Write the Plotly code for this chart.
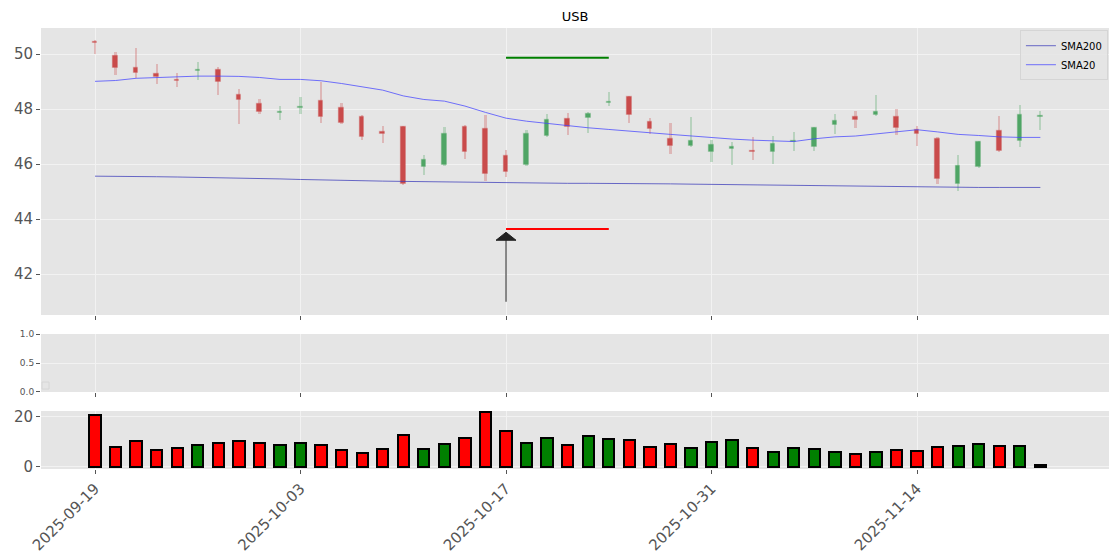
import plotly.graph_objects as go

# ---------------- data ----------------
title_text = "USB"
dates = [
    "2025-09-19", "2025-09-22", "2025-09-23", "2025-09-24", "2025-09-25", "2025-09-26",
    "2025-09-29", "2025-09-30", "2025-10-01", "2025-10-02", "2025-10-03",
    "2025-10-06", "2025-10-07", "2025-10-08", "2025-10-09", "2025-10-10",
    "2025-10-13", "2025-10-14", "2025-10-15", "2025-10-16", "2025-10-17",
    "2025-10-20", "2025-10-21", "2025-10-22", "2025-10-23", "2025-10-24",
    "2025-10-27", "2025-10-28", "2025-10-29", "2025-10-30", "2025-10-31",
    "2025-11-03", "2025-11-04", "2025-11-05", "2025-11-06", "2025-11-07",
    "2025-11-10", "2025-11-11", "2025-11-12", "2025-11-13", "2025-11-14",
    "2025-11-17", "2025-11-18", "2025-11-19", "2025-11-20", "2025-11-21",
    "2025-11-24",
]
opens = [50.44, 49.94, 49.48, 49.28, 49.05, 49.39, 49.42, 48.52, 48.19, 47.86, 48.04,
         48.30, 48.05, 47.72, 47.18, 47.36, 45.90, 45.98, 47.36, 47.26, 46.29,
         45.97, 47.02, 47.65, 47.67, 48.22, 48.45, 47.54, 46.92, 46.65, 46.44,
         46.55, 46.47, 46.44, 46.80, 46.61, 47.42, 47.72, 47.78, 47.72, 47.24,
         46.93, 45.27, 45.90, 47.21, 46.85, 47.70]
highs = [50.51, 50.08, 50.24, 49.65, 49.32, 49.72, 49.52, 48.74, 48.38, 48.11, 48.45,
         48.99, 48.23, 47.78, 47.38, 47.38, 46.33, 47.36, 47.42, 47.78, 46.51,
         47.24, 47.82, 47.87, 47.90, 48.63, 48.47, 47.68, 47.50, 47.72, 46.87,
         46.79, 46.99, 47.02, 47.18, 47.36, 47.84, 47.94, 48.51, 48.02, 47.38,
         46.97, 46.33, 46.84, 47.75, 48.15, 47.94]
lows = [50.02, 49.24, 49.12, 48.91, 48.79, 49.05, 48.50, 47.45, 47.82, 47.60, 47.84,
        47.48, 47.45, 46.87, 46.78, 45.25, 45.60, 45.93, 46.17, 45.39, 45.54,
        45.93, 46.97, 47.05, 47.12, 48.11, 47.48, 47.09, 46.36, 46.62, 46.08,
        45.97, 46.15, 46.02, 46.47, 46.48, 47.09, 47.30, 47.75, 47.05, 46.65,
        45.27, 45.03, 45.84, 46.45, 46.62, 47.24]
closes = [50.40, 49.50, 49.33, 49.15, 49.01, 49.43, 48.98, 48.33, 47.89, 47.90, 48.08,
          47.70, 47.48, 46.97, 47.10, 45.27, 46.15, 47.09, 46.44, 45.64, 45.71,
          47.09, 47.60, 47.36, 47.82, 48.26, 47.78, 47.26, 46.65, 46.85, 46.69,
          46.62, 46.43, 46.73, 46.84, 47.32, 47.58, 47.60, 47.90, 47.30, 47.09,
          45.44, 45.94, 46.81, 46.47, 47.78, 47.74]
volumes = [20.8, 8.0, 10.4, 6.8, 7.6, 8.7, 9.6, 10.4, 9.6, 8.7, 9.6,
           8.7, 6.8, 5.6, 7.2, 12.8, 7.2, 9.2, 11.6, 22.1, 14.4,
           9.6, 11.6, 8.8, 12.4, 11.2, 10.8, 8.0, 9.2, 7.6, 10.0,
           10.8, 7.6, 6.0, 7.6, 7.2, 6.0, 5.2, 6.0, 6.8, 6.4,
           8.0, 8.4, 9.2, 8.4, 8.4, 0.9]
sma20 = [49.01, 49.04, 49.12, 49.15, 49.16, 49.20, 49.20, 49.19, 49.15, 49.08, 49.08,
         49.03, 48.93, 48.81, 48.69, 48.48, 48.35, 48.29, 48.11, 47.88, 47.67,
         47.56, 47.48, 47.38, 47.32, 47.26, 47.19, 47.14, 47.08, 47.02, 46.96,
         46.91, 46.87, 46.84, 46.82, 46.92, 46.99, 47.02, 47.09, 47.17, 47.25,
         47.17, 47.08, 47.04, 46.99, 46.97, 46.97]
sma200 = [45.56, 45.56, 45.55, 45.54, 45.53, 45.52, 45.50, 45.49, 45.47, 45.46, 45.44,
          45.42, 45.40, 45.39, 45.38, 45.37, 45.36, 45.35, 45.34, 45.32, 45.31,
          45.31, 45.30, 45.30, 45.30, 45.30, 45.29, 45.29, 45.28, 45.27, 45.26,
          45.25, 45.24, 45.23, 45.22, 45.21, 45.20, 45.20, 45.19, 45.19, 45.18,
          45.16, 45.15, 45.15, 45.15, 45.15, 45.15]
tick_dates = ["2025-09-19", "2025-10-03", "2025-10-17", "2025-10-31", "2025-11-14"]
level_dates = ["2025-10-17", "2025-10-24"]
target_levels = [49.865, 49.865]
stop_levels = [43.636, 43.636]
signal_date = "2025-10-17"
arrow_tip = 43.52
arrow_base = 40.99
price_ticks = [42, 44, 46, 48, 50]
mid_ticks = [0, 0.5, 1.0]
mid_tick_text = ["0.0", "0.5", "1.0"]
vol_ticks = [0, 20]

# ---------------- styles ----------------
FONT = "DejaVu Sans"
UP_BODY = "#4fa565"
DN_BODY = "#c94b4b"
UP_WICK = "rgba(79,165,101,0.30)"
DN_WICK = "rgba(201,75,75,0.30)"

is_up = [c >= o for o, c in zip(opens, closes)]
body_col = [UP_BODY if u else DN_BODY for u in is_up]
wick_col = [UP_WICK if u else DN_WICK for u in is_up]
body_h = [max(abs(c - o), 0.04) for o, c in zip(opens, closes)]
body_base = [(o + c) / 2 - h / 2 for o, c, h in zip(opens, closes, body_h)]
wick_h = [h - l for h, l in zip(highs, lows)]
vol_col = ["#008000" if u else "#ff0000" for u in is_up]

fig = go.Figure()

# wicks
fig.add_trace(go.Bar(x=dates, y=wick_h, base=lows, width=0.11,
                     marker=dict(color=wick_col, line=dict(width=0)),
                     showlegend=False, hoverinfo="skip", xaxis="x", yaxis="y"))
# bodies
fig.add_trace(go.Bar(x=dates, y=body_h, base=body_base, width=0.22,
                     marker=dict(color=body_col, line=dict(color=wick_col, width=1.2)),
                     showlegend=False, xaxis="x", yaxis="y"))
# moving averages
fig.add_trace(go.Scatter(x=dates, y=sma200, mode="lines", name="SMA200",
                         line=dict(color="rgba(60,60,185,0.75)", width=1),
                         xaxis="x", yaxis="y"))
fig.add_trace(go.Scatter(x=dates, y=sma20, mode="lines", name="SMA20",
                         line=dict(color="rgba(70,70,255,0.75)", width=1),
                         xaxis="x", yaxis="y"))
# target / stop levels
fig.add_trace(go.Scatter(x=level_dates, y=target_levels, mode="lines",
                         line=dict(color="#008000", width=2), showlegend=False,
                         xaxis="x", yaxis="y"))
fig.add_trace(go.Scatter(x=level_dates, y=stop_levels, mode="lines",
                         line=dict(color="#ff0000", width=2), showlegend=False,
                         xaxis="x", yaxis="y"))
# empty middle panel
fig.add_trace(go.Scatter(x=[], y=[], showlegend=False, xaxis="x2", yaxis="y2"))
# volume
fig.add_trace(go.Bar(x=dates, y=volumes, width=0.55,
                     marker=dict(color=vol_col, line=dict(color="black", width=2)),
                     showlegend=False, xaxis="x3", yaxis="y3"))

# signal arrow: shaft + flat triangular head
fig.add_shape(type="line", xref="x", yref="y", x0=signal_date, x1=signal_date,
              y0=arrow_base, y1=arrow_tip - 0.25, line=dict(color="#666666", width=1.5))
fig.add_shape(type="path", xref="x", yref="y", xsizemode="pixel", ysizemode="pixel",
              xanchor=signal_date, yanchor=arrow_tip,
              path="M-10,-8 L10,-8 L0,0 Z", fillcolor="#222222",
              line=dict(color="#222222", width=1))

xcommon = dict(type="category", categoryorder="array", categoryarray=dates,
               range=[-2.628, 49.34], tickmode="array", tickvals=tick_dates,
               ticks="outside", ticklen=4, tickcolor="#555555", tickwidth=1,
               showgrid=True, gridcolor="#f2f2f2", gridwidth=1, zeroline=False,
               showline=False, automargin=False)
ycommon = dict(ticks="outside", ticklen=4, tickcolor="#555555", tickwidth=1,
               showgrid=True, gridcolor="#f2f2f2", gridwidth=1, zeroline=False,
               showline=False, automargin=False,
               tickfont=dict(family=FONT, size=15, color="#555555"))

fig.update_layout(
    width=1120, height=560,
    margin=dict(l=41, r=11, t=28, b=91, autoexpand=False),
    paper_bgcolor="white", plot_bgcolor="#e5e5e5",
    font=dict(family=FONT, color="#555555"),
    barmode="overlay", bargap=0,
    title=dict(text=title_text, x=0.5, xref="paper", xanchor="center",
               y=1 - 16 / 560, yref="container", yanchor="middle",
               font=dict(family=FONT, size=13, color="black")),
    xaxis=dict(xcommon, domain=[0, 1], anchor="y", showticklabels=False),
    xaxis2=dict(xcommon, domain=[0, 1], anchor="y2", matches="x", showticklabels=False),
    xaxis3=dict(xcommon, domain=[0, 1], anchor="y3", matches="x", showticklabels=True,
                tickangle=-45, tickfont=dict(family=FONT, size=15, color="#555555")),
    yaxis=dict(ycommon, domain=[0.3492, 1], range=[40.51, 50.95],
               tickmode="array", tickvals=price_ticks),
    yaxis2=dict(ycommon, domain=[0.1746, 0.3061], range=[0, 1],
                tickmode="array", tickvals=mid_ticks, ticktext=mid_tick_text,
                tickfont=dict(family=FONT, size=9, color="#555555")),
    yaxis3=dict(ycommon, domain=[0, 0.1315], range=[-0.8, 22.3],
                tickmode="array", tickvals=vol_ticks),
    legend=dict(x=0.999, y=0.995, xanchor="right", yanchor="top",
                bgcolor="rgba(229,229,229,0.85)", bordercolor="#d5d5d5", borderwidth=1,
                font=dict(family=FONT, size=10, color="black"), tracegroupgap=0,
                itemwidth=30),
    showlegend=True,
)

# empty legend frame in middle panel
fig.add_shape(type="rect", xref="x2 domain", yref="y2 domain",
              x0=1 / 1068, x1=8 / 1068, y0=3 / 58, y1=10 / 58,
              line=dict(color="#d6d6d6", width=1), fillcolor="rgba(0,0,0,0)")

fig.write_html("out.html", config={"displayModeBar": False},
               post_script="document.body.style.margin='0';document.body.style.overflow='hidden';")
